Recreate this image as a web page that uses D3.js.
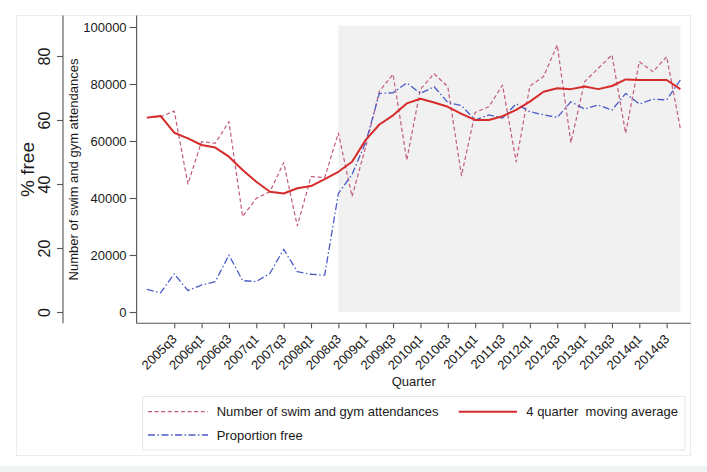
<!DOCTYPE html>
<html><head><meta charset="utf-8">
<script src="https://cdn.jsdelivr.net/npm/d3@7"></script>
<style>
html,body{margin:0;padding:0;background:#fff;}
svg{display:block;font-family:"Liberation Sans",Arial,Helvetica,sans-serif;}
text{white-space:pre;}
</style></head>
<body>
<svg id="chart" width="707" height="472"></svg>
<script>
// ---- data (quarter index 0 = 2005q1 ... 39 = 2014q4) ----
const quarters = d3.range(2005, 2015).flatMap(y => [1,2,3,4].map(q => y + "q" + q));
const attendances = [68200,68500,70500,44900,59800,59200,66800,33500,39900,42200,
  52400,30200,47500,47200,62800,40500,58000,77500,83400,53300,
  78200,83600,79100,47800,70000,72000,79600,52700,79300,82600,
  93700,59400,80800,85500,90200,62700,87800,84300,89600,64400];
const movingAverage = [68200,68800,62900,60900,58600,57700,54500,49800,45700,42200,
  41600,43400,44200,46600,49200,52700,60400,65800,69000,73200,
  74800,73500,72000,69500,67400,67400,68700,70900,73800,77300,
  78500,78200,79100,78200,79300,81600,81400,81400,81400,78200];
const proportionFree = [7.1,6.0,11.9,6.7,8.4,9.5,17.8,9.8,9.5,12.1,
  19.6,12.6,11.8,11.5,37.0,43.0,53.0,68.3,68.5,71.6,
  68.3,70.4,65.5,64.5,60.0,61.6,60.6,65.1,62.6,61.6,
  60.8,65.7,63.4,64.7,63.1,68.3,65.0,66.5,66.3,72.5];
const xTickLabels = ["2005q3","2006q1","2006q3","2007q1","2007q3","2008q1","2008q3","2009q1","2009q3",
  "2010q1","2010q3","2011q1","2011q3","2012q1","2012q3","2013q1","2013q3","2014q1","2014q3"];
const countTicks = [0,20000,40000,60000,80000,100000];
const pctTicks = [0,20,40,60,80];
const shadeStart = "2008q3", shadeEnd = "2014q4";
const legendLabels = ["Number of swim and gym attendances","4 quarter  moving average","Proportion free"];

const svg = d3.select("#chart");
const FONT = "13px";

// bottom strip & outer border
svg.append("rect").attr("x",0).attr("y",466).attr("width",707).attr("height",6).attr("fill","#eef4f4");
svg.append("rect").attr("x",16.5).attr("y",15.5).attr("width",674).attr("height",440)
  .attr("fill","none").attr("stroke","#ececec");

// scales
const x = d3.scaleLinear().domain([-0.75, 39.75]).range([136.6, 690.6]);
const yCount = d3.scaleLinear().domain([0,100000]).range([312,27]);
const yPct = d3.scaleLinear().domain([0,80]).range([312,56]);
const yTop = 15.5, yBot = 323.3;

// shaded region
const qi = q => quarters.indexOf(q);
svg.append("rect")
  .attr("x", x(qi(shadeStart))).attr("width", x(qi(shadeEnd)) - x(qi(shadeStart)))
  .attr("y", yCount(100500)).attr("height", yCount(0) - yCount(100500))
  .attr("fill", "#f1f1f1");

// axes
const axisColor = "#555";
const gC = svg.append("g").attr("transform","translate(136.6,0)")
  .call(d3.axisLeft(yCount).tickValues(countTicks).tickSize(7).tickPadding(3).tickFormat(d3.format("d")));
gC.select(".domain").attr("d", `M0,${yTop}V${yBot}`);
const gP = svg.append("g").attr("transform","translate(63,0)")
  .call(d3.axisLeft(yPct).tickValues(pctTicks).tickSize(6).tickFormat(d3.format("d")));
gP.select(".domain").attr("d", `M0,${yTop}V${yBot}`);
gP.selectAll(".tick text").attr("x",null).attr("dy",null)
  .attr("text-anchor","middle").attr("transform","translate(-13,0) rotate(-90)")
  .attr("y",0).style("font-size","16px");
const gX = svg.append("g").attr("transform",`translate(0,${yBot})`)
  .call(d3.axisBottom(x).tickValues(xTickLabels.map(qi)).tickSize(5).tickFormat(i => quarters[i]));
gX.select(".domain").attr("d", "M136.6,0H690.6");
gX.selectAll(".tick text").attr("y",null).attr("dy",null)
  .attr("text-anchor","end").attr("transform","translate(3,16.5) rotate(-45)");

[gC,gP,gX].forEach(g => {
  g.selectAll(".domain").attr("stroke",axisColor).attr("stroke-width",1.1);
  g.selectAll(".tick line").attr("stroke",axisColor).attr("stroke-width",1.1);
  g.selectAll(".tick text").attr("fill","#1a1a1a").style("font-family","inherit");
});
gC.selectAll(".tick text").style("font-size",FONT);
gX.selectAll(".tick text").style("font-size",FONT);

// axis titles
svg.append("text").attr("transform","translate(34,169.5) rotate(-90)")
  .attr("text-anchor","middle").style("font-size","19px").attr("fill","#1a1a1a").text("% free");
svg.append("text").attr("transform","translate(77.5,169.5) rotate(-90)")
  .attr("text-anchor","middle").style("font-size",FONT).attr("fill","#1a1a1a").text("Number of swim and gym attendances");
svg.append("text").attr("x",413.7).attr("y",386).attr("text-anchor","middle")
  .style("font-size",FONT).attr("fill","#1a1a1a").text("Quarter");

// series
const styles = {
  att: {color:"#c25b7d", width:1.2, dash:"4,2.6"},
  ma:  {color:"#d62b2b", width:2, dash:null},
  pf:  {color:"#4b5bc6", width:1.3, dash:"7,2.5,1.5,2.5"}
};
const lineC = d3.line().x((d,i)=>x(i)).y(d=>yCount(d));
const lineP = d3.line().x((d,i)=>x(i)).y(d=>yPct(d));
function drawPath(data, gen, s){
  svg.append("path").datum(data).attr("d",gen).attr("fill","none")
    .attr("stroke",s.color).attr("stroke-width",s.width)
    .attr("stroke-dasharray",s.dash).attr("stroke-linejoin","round");
}
drawPath(attendances, lineC, styles.att);
drawPath(proportionFree, lineP, styles.pf);
drawPath(movingAverage, lineC, styles.ma);

// legend
svg.append("rect").attr("x",142.5).attr("y",396.5).attr("width",542.5).attr("height",53.5)
  .attr("fill","#fff").attr("stroke","#e6e6e6");
const legItems = [
  {label:legendLabels[0], s:styles.att, x1:148, x2:208, tx:216.7, y:411.7},
  {label:legendLabels[1], s:styles.ma, x1:458.7, x2:517, tx:526.3, y:411.7},
  {label:legendLabels[2], s:styles.pf, x1:148, x2:208, tx:216.7, y:435}
];
legItems.forEach(it => {
  svg.append("line").attr("x1",it.x1).attr("x2",it.x2).attr("y1",it.y).attr("y2",it.y)
    .attr("stroke",it.s.color).attr("stroke-width",it.s.width).attr("stroke-dasharray",it.s.dash);
  svg.append("text").attr("x",it.tx).attr("y",it.y).attr("dy","0.36em")
    .style("font-size",FONT).attr("fill","#1a1a1a").text(it.label);
});
</script>
</body></html>
